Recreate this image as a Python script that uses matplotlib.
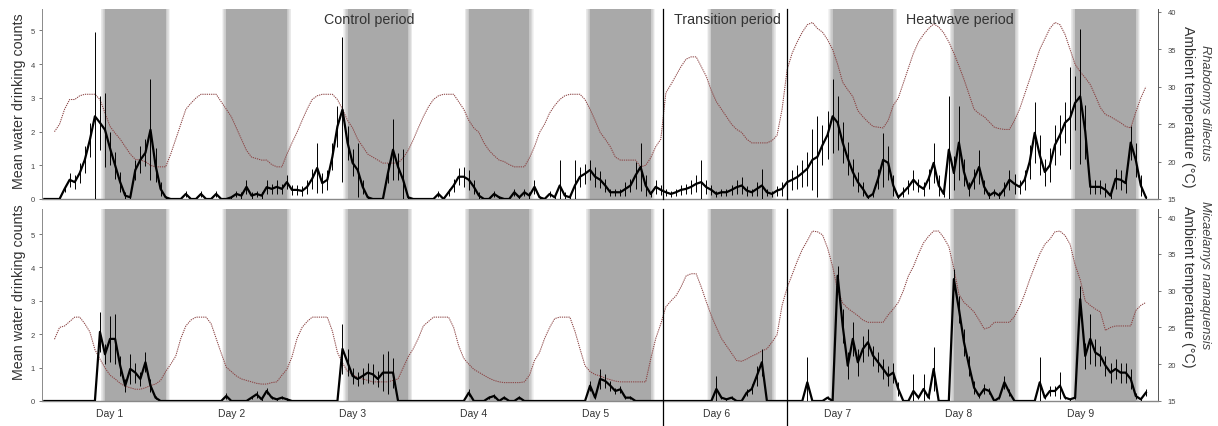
import numpy as np
import matplotlib
matplotlib.use("Agg")
import matplotlib.pyplot as plt

plt.rcParams["font.family"] = ["Liberation Sans", "DejaVu Sans"]

W, H = 1218, 427
nan = np.nan

# ── Data (hourly, hour 0 = start of recording) ───────────────────────────────
hours = np.arange(219)
dark_starts = [12, 36, 60, 84, 108, 132, 156, 180, 204]
dark_len = 12
day_ticks = [13, 37, 61, 85, 109, 133, 157, 181, 205]
day_labels = ["Day 1", "Day 2", "Day 3", "Day 4", "Day 5",
              "Day 6", "Day 7", "Day 8", "Day 9"]
period_breaks = [122.5, 147]
period_names = ["Control period", "Transition period", "Heatwave period"]
period_label_x = [64.3, 135.1, 181.2]

# Rhabdomys dilectus
rd_drink = [
    0, 0, 0, 0, 0.3, 0.57, 0.5, 0.77, 1.16, 1.75, 2.45, 2.26, 2.05, 1.5, 1.0, 0.5, 0.1, 0.05, 0.86, 1.16, 1.37, 2.05, 1.0, 0.3,
    0.05, 0, 0, 0, 0.15, 0, 0, 0.15, 0, 0, 0.15, 0, 0, 0.05, 0.15, 0.1, 0.36, 0.1, 0.15, 0.1, 0.35, 0.3, 0.36, 0.3,
    0.5, 0.27, 0.27, 0.24, 0.36, 0.6, 0.92, 0.47, 0.57, 1.25, 2.15, 2.65, 1.67, 1.07, 0.86, 0.36, 0.05, 0, 0, 0, 0.77, 1.46, 0.95, 0.57,
    0.05, 0, 0, 0, 0, 0, 0.15, 0, 0.2, 0.4, 0.66, 0.66, 0.57, 0.36, 0.1, 0, 0, 0.15, 0.05, 0, 0, 0.2, 0.05, 0.2,
    0.1, 0.36, 0.05, 0, 0.15, 0.05, 0.4, 0.1, 0.05, 0.4, 0.66, 0.75, 0.86, 0.66, 0.57, 0.4, 0.2, 0.2, 0.2, 0.3, 0.4, 0.7, 0.95, 0.4,
    0.15, 0.36, 0.27, 0.2, 0.15, 0.2, 0.27, 0.3, 0.36, 0.45, 0.5, 0.35, 0.27, 0.15, 0.2, 0.2, 0.27, 0.35, 0.4, 0.25, 0.2, 0.3, 0.4, 0.2,
    0.15, 0.25, 0.3, 0.5, 0.57, 0.65, 0.77, 0.9, 1.16, 1.25, 1.6, 1.9, 2.45, 2.26, 1.67, 1.2, 0.8, 0.5, 0.3, 0.05, 0.15, 0.6, 1.16, 1.07,
    0.4, 0.05, 0.2, 0.36, 0.57, 0.4, 0.3, 0.6, 1.07, 0.4, 0.15, 1.46, 0.77, 1.67, 0.8, 0.3, 0.6, 0.95, 0.36, 0.1, 0.2, 0.1, 0.3, 0.57,
    0.45, 0.36, 0.57, 1.1, 1.96, 1.3, 0.8, 1.0, 1.6, 1.9, 2.26, 2.4, 2.85, 3.04, 2.0, 0.36, 0.36, 0.36, 0.27, 0.1, 0.6, 0.57, 0.47, 1.67,
    1.16, 0.4, 0.05,
]
rd_err = [
    0, 0, 0, 0, 0.1, 0.2, 0.2, 0.3, 0.4, 0.5, 2.5, 0.8, 1.1, 0.5, 0.4, 0.3, 0.1, 0.05, 0.3, 0.4, 0.4, 1.5, 0.5, 0.2,
    0.05, 0, 0, 0, 0.1, 0, 0, 0.1, 0, 0, 0.1, 0, 0, 0.05, 0.1, 0.1, 0.2, 0.1, 0.1, 0.1, 0.2, 0.15, 0.2, 0.15,
    0.2, 0.15, 0.15, 0.15, 0.2, 0.3, 0.75, 0.3, 0.3, 0.4, 0.6, 2.15, 0.5, 0.4, 0.8, 0.2, 0.05, 0, 0, 0, 0.3, 0.9, 0.4, 0.9,
    0.05, 0, 0, 0, 0, 0, 0.1, 0, 0.1, 0.2, 0.25, 0.3, 0.3, 0.2, 0.1, 0, 0, 0.1, 0.05, 0, 0, 0.1, 0.05, 0.1,
    0.1, 0.2, 0.05, 0, 0.1, 0.05, 0.75, 0.1, 0.05, 0.76, 0.3, 0.3, 0.3, 0.3, 0.25, 0.2, 0.1, 0.1, 0.1, 0.2, 0.2, 0.4, 0.7, 0.3,
    0.1, 0.2, 0.15, 0.1, 0.1, 0.1, 0.15, 0.15, 0.2, 0.25, 0.66, 0.2, 0.15, 0.1, 0.1, 0.1, 0.15, 0.2, 0.25, 0.15, 0.1, 0.2, 0.5, 0.1,
    0.1, 0.15, 0.2, 0.3, 0.3, 0.35, 0.4, 0.5, 0.9, 1.2, 0.6, 0.7, 1.1, 0.8, 0.6, 0.5, 0.4, 0.3, 0.2, 0.05, 0.1, 0.3, 0.8, 0.5,
    0.3, 0.05, 0.15, 0.2, 0.3, 0.2, 0.2, 0.3, 0.6, 0.3, 0.1, 1.6, 0.5, 1.1, 0.4, 0.2, 0.3, 0.5, 0.2, 0.1, 0.1, 0.1, 0.2, 0.3,
    0.3, 0.2, 0.3, 0.5, 0.9, 0.6, 0.4, 0.5, 0.6, 0.6, 0.6, 1.5, 0.8, 2.0, 0.8, 0.2, 0.2, 0.2, 0.2, 0.1, 0.3, 0.3, 0.3, 0.5,
    0.5, 0.3, 0.05,
]
rd_temp = [
    nan, nan, 24.0, 25.0, 27.0, 28.3, 28.3, 28.8, 29.0, 29.0, 29.0, 28.3, 26.5, 24.7, 23.8, 23.0, 22.0, 21.0, 20.3, 20.2, 20.0, 19.5, 19.3, 19.3,
    19.3, 21.0, 23.0, 25.0, 27.0, 27.8, 28.5, 29.0, 29.0, 29.0, 29.0, 28.0, 27.0, 26.0, 24.5, 23.0, 21.5, 20.6, 20.4, 20.2, 20.2, 19.6, 19.3, 19.3,
    21.0, 22.5, 23.9, 25.5, 27.0, 28.3, 28.8, 29.0, 29.0, 29.0, 28.3, 27.0, 25.5, 24.5, 23.0, 22.0, 21.0, 20.6, 20.2, 19.8, 19.8, 19.8, 19.8, 20.5,
    21.5, 22.9, 24.5, 26.0, 27.3, 28.3, 28.8, 29.0, 29.0, 29.0, 28.0, 27.0, 25.5, 24.5, 23.9, 22.5, 21.5, 20.8, 20.2, 20.0, 19.6, 19.3, 19.3, 19.3,
    20.5, 22.0, 23.9, 25.0, 26.5, 27.5, 28.3, 28.8, 29.0, 29.0, 29.0, 28.3, 27.0, 25.5, 23.9, 23.0, 22.0, 20.6, 20.2, 20.2, 20.2, 20.2, 19.3, 19.5,
    20.5, 22.0, 23.0, 29.2, 30.3, 31.5, 32.7, 33.7, 34.0, 34.0, 32.7, 31.4, 29.5, 28.0, 27.0, 26.0, 25.0, 24.3, 23.9, 23.0, 22.5, 22.5, 22.5, 22.5,
    22.8, 23.5, 27.0, 32.3, 34.5, 36.0, 37.3, 38.3, 38.6, 37.8, 37.3, 36.3, 35.0, 33.0, 30.6, 29.6, 28.7, 26.8, 26.0, 25.3, 24.7, 24.6, 24.5, 25.5,
    27.5, 28.5, 30.5, 32.5, 34.5, 36.0, 37.0, 37.8, 38.4, 38.0, 37.2, 36.0, 34.5, 32.8, 31.0, 29.0, 27.0, 26.4, 26.0, 25.3, 24.6, 24.4, 24.3, 24.3,
    25.5, 27.0, 29.0, 31.0, 33.0, 35.0, 36.4, 37.8, 38.6, 38.3, 37.0, 35.0, 33.0, 32.0, 31.2, 30.3, 28.8, 27.2, 26.3, 26.0, 25.6, 25.2, 24.7, 24.5,
    26.6, 28.5, 30.0,
]

# Micaelamys namaquensis
mn_drink = [
    0, 0, 0, 0, 0, 0, 0, 0, 0, 0, 0, 2.07, 1.4, 1.86, 1.86, 1.06, 0.46, 0.96, 0.85, 0.66, 1.16, 0.46, 0.1, 0,
    0, 0, 0, 0, 0, 0, 0, 0, 0, 0, 0, 0, 0.15, 0, 0, 0, 0, 0.1, 0.2, 0.05, 0.3, 0.1, 0.05, 0.1,
    0.05, 0, 0, 0, 0, 0, 0, 0, 0, 0, 0, 1.56, 1.16, 0.75, 0.66, 0.75, 0.85, 0.8, 0.66, 0.85, 0.85, 0.85, 0, 0,
    0, 0, 0, 0, 0, 0, 0, 0, 0, 0, 0, 0, 0.25, 0, 0, 0, 0.1, 0.15, 0, 0.1, 0, 0, 0.1, 0,
    0, 0, 0, 0, 0, 0, 0, 0, 0, 0, 0, 0, 0.46, 0.1, 0.66, 0.6, 0.46, 0.3, 0.35, 0.1, 0.1, 0, 0, 0,
    0, 0, 0, 0, 0, 0, 0, 0, 0, 0, 0, 0, 0, 0.36, 0.1, 0.05, 0.1, 0, 0, 0.25, 0.36, 0.75, 1.16, 0,
    0, 0, 0, 0, 0, 0, 0, 0.56, 0, 0, 0, 0.1, 0, 3.75, 2.25, 1.06, 1.86, 1.16, 1.56, 1.76, 1.36, 1.16, 0.96, 0.75,
    0.85, 0.36, 0, 0, 0.3, 0.1, 0.36, 0.1, 0.96, 0, 0, 0, 3.65, 2.75, 1.76, 1.06, 0.4, 0.15, 0.36, 0.3, 0, 0.1, 0.56, 0.25,
    0, 0, 0, 0, 0, 0.56, 0.1, 0.3, 0.3, 0.46, 0.1, 0.05, 0.1, 3.05, 1.35, 1.86, 1.45, 1.35, 1.06, 0.85, 0.96, 0.85, 0.85, 0.66,
    0.15, 0.05, 0.25,
]
mn_err = [
    0, 0, 0, 0, 0, 0, 0, 0, 0, 0, 0, 0.6, 0.3, 0.7, 0.75, 0.3, 0.2, 0.45, 0.3, 0.2, 0.3, 0.2, 0.05, 0,
    0, 0, 0, 0, 0, 0, 0, 0, 0, 0, 0, 0, 0.1, 0, 0, 0, 0, 0.05, 0.1, 0.05, 0.1, 0.05, 0.05, 0.05,
    0.05, 0, 0, 0, 0, 0, 0, 0, 0, 0, 0, 0.75, 0.4, 0.25, 0.2, 0.25, 0.3, 0.3, 0.25, 0.55, 0.65, 0.45, 0, 0,
    0, 0, 0, 0, 0, 0, 0, 0, 0, 0, 0, 0, 0.1, 0, 0, 0, 0.05, 0.05, 0, 0.05, 0, 0, 0.05, 0,
    0, 0, 0, 0, 0, 0, 0, 0, 0, 0, 0, 0, 0.15, 0.05, 0.3, 0.2, 0.15, 0.1, 0.1, 0.05, 0.05, 0, 0, 0,
    0, 0, 0, 0, 0, 0, 0, 0, 0, 0, 0, 0, 0, 0.4, 0.05, 0.05, 0.05, 0, 0, 0.1, 0.15, 0.3, 0.4, 0,
    0, 0, 0, 0, 0, 0, 0, 0.75, 0, 0, 0, 0.05, 0, 0.3, 0.5, 0.4, 0.5, 0.4, 0.4, 0.4, 0.3, 0.3, 0.3, 0.3,
    0.3, 0.2, 0, 0, 0.5, 0.05, 0.45, 0.05, 0.65, 0, 0, 0, 0.3, 0.4, 0.4, 0.3, 0.2, 0.05, 0.15, 0.1, 0, 0.05, 0.2, 0.1,
    0, 0, 0, 0, 0, 0.75, 0.05, 0.15, 0.15, 0.4, 0.05, 0.05, 0.05, 0.4, 0.4, 0.75, 0.4, 0.3, 0.3, 0.3, 0.3, 0.3, 0.3, 0.3,
    0.1, 0.05, 0.1,
]
mn_temp = [
    nan, nan, 23.4, 25.0, 25.2, 25.8, 26.4, 26.4, 25.5, 24.4, 22.0, 20.7, 19.5, 18.5, 18.0, 17.4, 17.0, 16.8, 16.6, 16.6, 16.8, 17.1, 17.3, 17.8,
    19.0, 20.0, 21.1, 23.5, 25.2, 26.0, 26.4, 26.4, 26.4, 25.5, 23.5, 21.5, 19.6, 19.0, 18.4, 18.0, 17.8, 17.6, 17.4, 17.3, 17.3, 17.5, 17.6, 18.5,
    19.3, 21.0, 23.5, 25.0, 25.8, 26.4, 26.4, 26.4, 26.4, 24.5, 21.6, 20.2, 19.0, 18.6, 18.2, 18.0, 17.8, 17.6, 17.6, 17.6, 17.6, 17.8, 18.0, 19.5,
    21.0, 22.1, 23.5, 25.2, 25.8, 26.4, 26.4, 26.4, 26.4, 25.0, 22.5, 20.8, 20.0, 19.3, 18.9, 18.5, 18.1, 17.8, 17.6, 17.5, 17.5, 17.5, 17.5, 17.6,
    18.5, 20.5, 21.6, 23.5, 25.0, 26.2, 26.4, 26.4, 26.4, 24.5, 22.1, 19.8, 19.0, 18.6, 18.4, 18.1, 17.9, 17.7, 17.6, 17.6, 17.6, 17.6, 17.6, 17.6,
    20.7, 23.5, 25.5, 27.8, 28.6, 29.3, 30.5, 32.0, 32.3, 32.3, 30.5, 28.5, 26.6, 25.0, 23.5, 22.5, 21.5, 20.5, 20.4, 20.7, 21.1, 21.4, 21.8, 22.1,
    23.0, 24.0, 28.0, 30.4, 32.2, 34.0, 35.6, 36.8, 38.1, 38.0, 37.6, 35.8, 33.3, 30.0, 28.3, 27.6, 27.1, 26.6, 26.0, 25.7, 25.7, 25.7, 25.7, 26.7,
    27.5, 28.4, 30.0, 32.0, 33.3, 35.0, 36.5, 37.4, 38.1, 38.1, 37.2, 36.0, 33.0, 29.5, 28.4, 27.8, 27.1, 26.0, 24.8, 25.0, 25.7, 25.7, 25.7, 25.7,
    26.5, 27.8, 29.5, 31.5, 33.3, 35.0, 36.3, 37.0, 38.0, 38.1, 37.5, 36.3, 33.5, 31.5, 28.6, 28.0, 27.5, 27.1, 24.6, 25.0, 25.2, 25.2, 25.2, 25.2,
    27.3, 28.0, 28.4,
]

GRAY = "#a9a9a9"
TEMP = "#8b4343"
TXT = "#333333"


def shade(ax, start, length):
    ax.axvspan(start, start + length, color=GRAY, lw=0, zorder=0)
    # soft, blurred edges
    for d in (0.12, 0.24, 0.36, 0.48, 0.6, 0.72, 0.84):
        ax.axvspan(start - d, start, color=GRAY, alpha=0.13, lw=0, zorder=0)
        ax.axvspan(start + length, start + length + d, color=GRAY, alpha=0.13, lw=0, zorder=0)


def panel(ax, drink, err, temp, species, ylim_l, ylim_r, bottom, label_y):
    tw = ax.twinx()
    ax.set_zorder(tw.get_zorder() + 1)
    ax.patch.set_visible(False)

    for s in dark_starts:
        shade(tw, s, dark_len)
    tw.plot(hours, temp, color=TEMP, lw=0.75, ls=(0, (1.2, 0.9)), zorder=2)

    ax.errorbar(hours, drink, yerr=err, color="black", lw=1.6,
                elinewidth=0.7, capsize=0, zorder=3)

    for xb in period_breaks:
        ax.axvline(xb, color="black", lw=0.9, zorder=4,
                   ymin=-0.13 if bottom else 0, clip_on=False)

    ax.set_xlim(-0.47, 220.4)
    ax.set_ylim(*ylim_l)
    tw.set_ylim(*ylim_r)

    ax.set_yticks(range(6))
    ax.tick_params(axis="y", labelsize=5.5, length=2, width=0.5,
                   colors="#444444", pad=3)
    tw.set_yticks(range(15, 41, 5))
    tw.tick_params(axis="y", labelsize=5.5, length=2, width=0.5,
                   colors="#444444", pad=5)

    if bottom:
        ax.set_xticks(day_ticks)
        ax.set_xticklabels(day_labels)
        ax.tick_params(axis="x", labelsize=7.5, length=0, pad=5, colors=TXT)
    else:
        ax.set_xticks([])

    for sp in ("top", "right"):
        ax.spines[sp].set_visible(False)
    ax.spines["left"].set_color("#8a8a8a")
    ax.spines["left"].set_linewidth(0.7)
    ax.spines["bottom"].set_color("#888888")
    ax.spines["bottom"].set_linewidth(1.0)
    for sp in ("top", "left", "bottom"):
        tw.spines[sp].set_visible(False)
    tw.spines["right"].set_color("#555555")
    tw.spines["right"].set_linewidth(0.7)

    ax.text(-0.021, label_y[0], "Mean water drinking counts", transform=ax.transAxes,
            rotation=90, ha="center", va="center", fontsize=10.3, color=TXT)
    ax.text(1.027, label_y[1], "Ambient temperature (\u00b0C)", transform=ax.transAxes,
            rotation=270, ha="center", va="center", fontsize=10.2, color=TXT)
    ax.text(1.042, label_y[2], species, transform=ax.transAxes, rotation=270,
            ha="center", va="center", fontsize=9.3, style="italic", color="#444444")
    return tw


def main():
    fig = plt.figure(figsize=(W / 100, H / 100), dpi=100)
    ax1 = fig.add_axes([42 / W, 1 - 200 / H, 1116 / W, 190 / H])
    ax2 = fig.add_axes([42 / W, 1 - 402 / H, 1116 / W, 192 / H])

    panel(ax1, rd_drink, rd_err, rd_temp, "Rhabdomys dilectus",
          (0, 5.63), (15, 40.4), False, (0.52, 0.49, 0.51))
    panel(ax2, mn_drink, mn_err, mn_temp, "Micaelamys namaquensis",
          (0, 5.75), (15, 41.1), True, (0.57, 0.6, 0.66))

    for name, xp in zip(period_names, period_label_x):
        ax1.text(xp, 0.945, name, transform=ax1.get_xaxis_transform(),
                 ha="center", va="center", fontsize=10.3, color=TXT, zorder=6)

    fig.savefig("out.png", dpi=100, facecolor="white")
    plt.close(fig)


if __name__ == "__main__":
    main()
